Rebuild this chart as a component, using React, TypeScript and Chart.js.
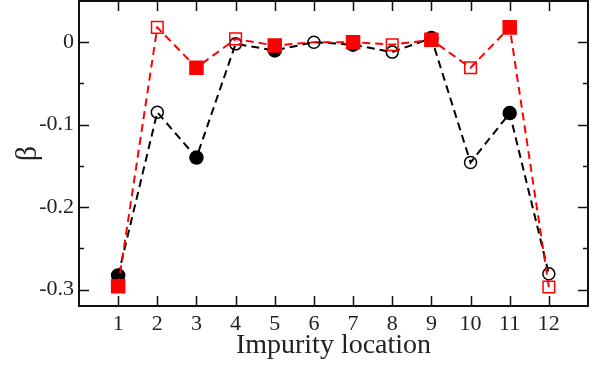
import React, { useEffect, useRef } from "react";
import { Chart, registerables } from "chart.js";

Chart.register(...registerables);

const locations = [1, 2, 3, 4, 5, 6, 7, 8, 9, 10, 11, 12];
const blackSeries = [-0.283, -0.085, -0.14, -0.002, -0.01, 0.0, -0.003, -0.012, 0.005, -0.146, -0.086, -0.281];
const redSeries = [-0.296, 0.018, -0.031, 0.004, -0.004, 0.0, 0.0, -0.003, 0.003, -0.031, 0.018, -0.297];
const redMarkerHidden = [false, false, false, false, false, true, false, false, false, false, false, false];
const xTickValues = [1, 2, 3, 4, 5, 6, 7, 8, 9, 10, 11, 12];
const yTickValues = [-0.3, -0.25, -0.2, -0.15, -0.1, -0.05, 0];
const xTitle = "Impurity location";
const yTitle = "β";

const FONT = "'Liberation Serif', 'DejaVu Serif', serif";

const isMajorY = (v: number) => Math.abs(Math.round(v * 10) - v * 10) < 1e-6;

const framePlugin = {
  id: "frameTicks",
  beforeDatasetsDraw(chart: any) {
    const { ctx, chartArea } = chart;
    const { left, right, top, bottom } = chartArea;
    const xs = chart.scales.x;
    const ys = chart.scales.y;
    ctx.save();
    ctx.strokeStyle = "#111";
    ctx.lineWidth = 1.5;
    ctx.beginPath();
    xs.ticks.forEach((t: any) => {
      const px = Math.round(xs.getPixelForValue(t.value)) + 0.5;
      ctx.moveTo(px, bottom);
      ctx.lineTo(px, bottom - 10);
      ctx.moveTo(px, top);
      ctx.lineTo(px, top + 10);
    });
    ys.ticks.forEach((t: any) => {
      const py = Math.round(ys.getPixelForValue(t.value)) + 0.5;
      const len = isMajorY(t.value) ? 10 : 5;
      ctx.moveTo(left, py);
      ctx.lineTo(left + len, py);
      ctx.moveTo(right, py);
      ctx.lineTo(right - len, py);
    });
    ctx.stroke();
    ctx.lineWidth = 2;
    ctx.strokeStyle = "#111";
    ctx.strokeRect(left, top, right - left, bottom - top);
    ctx.restore();
  },
};

export default function App() {
  const canvasRef = useRef<HTMLCanvasElement | null>(null);

  useEffect(() => {
    if (!canvasRef.current) return;
    const filled = (i: number) => i % 2 === 0;
    const chart = new Chart(canvasRef.current, {
      type: "line",
      data: {
        datasets: [
          {
            label: "red",
            data: locations.map((x, i) => ({ x, y: redSeries[i] })),
            borderColor: "#ff0000",
            borderWidth: 2,
            borderDash: [8, 5],
            pointStyle: "rect",
            pointRadius: locations.map((_, i) => (redMarkerHidden[i] ? 0 : filled(i) ? 9.2 : 8.2)),
            pointBorderColor: "#ff0000",
            pointBackgroundColor: locations.map((_, i) => (filled(i) ? "#ff0000" : "rgba(0,0,0,0)")),
            pointBorderWidth: 1.5,
            fill: false,
            tension: 0,
          },
          {
            label: "black",
            data: locations.map((x, i) => ({ x, y: blackSeries[i] })),
            borderColor: "#000000",
            borderWidth: 2,
            borderDash: [8, 5],
            pointStyle: "circle",
            pointRadius: locations.map((_, i) => (filled(i) ? 6.5 : 6)),
            pointBorderColor: "#000000",
            pointBackgroundColor: locations.map((_, i) => (filled(i) ? "#000000" : "rgba(0,0,0,0)")),
            pointBorderWidth: 1.5,
            fill: false,
            tension: 0,
          },
        ],
      },
      options: {
        responsive: false,
        animation: false,
        layout: { autoPadding: false, padding: { top: 1, right: 11, left: 0, bottom: 0 } },
        plugins: { legend: { display: false }, tooltip: { enabled: false } },
        scales: {
          x: {
            type: "linear",
            min: 0,
            max: 13,
            afterBuildTicks: (scale: any) => {
              scale.ticks = xTickValues.map((v) => ({ value: v }));
            },
            afterFit: (scale: any) => {
              scale.height = 60;
              scale.paddingLeft = 0;
              scale.paddingRight = 0;
            },
            grid: { display: false, drawTicks: false },
            border: { display: false },
            ticks: {
              font: { family: FONT, size: 22 },
              color: "#222",
              padding: 5,
              maxRotation: 0,
              autoSkip: false,
              callback: (v: any) => String(v),
            },
            title: {
              display: true,
              text: xTitle,
              font: { family: FONT, size: 28, lineHeight: 1 },
              color: "#222",
              padding: { top: 0, bottom: 6 },
            },
          },
          y: {
            type: "linear",
            min: -0.32,
            max: 0.05,
            afterBuildTicks: (scale: any) => {
              scale.ticks = yTickValues.map((v) => ({ value: v }));
            },
            afterFit: (scale: any) => {
              scale.width = 79;
              scale.paddingTop = 0;
              scale.paddingBottom = 0;
            },
            grid: { display: false, drawTicks: false },
            border: { display: false },
            ticks: {
              font: { family: FONT, size: 22 },
              color: "#222",
              padding: 5,
              autoSkip: false,
              callback: (v: any) => {
                const n = Number(v);
                if (!isMajorY(n)) return "";
                return Math.abs(n) < 1e-9 ? "0" : n.toFixed(1);
              },
            },
            title: {
              display: true,
              text: yTitle,
              font: { family: FONT, size: 30, lineHeight: 1 },
              color: "#222",
              padding: { top: 13, bottom: 0 },
            },
          },
        },
      },
      plugins: [framePlugin],
    });
    return () => chart.destroy();
  }, []);

  return (
    <div style={{ position: "absolute", left: 0, top: 0, width: 599, height: 366, background: "#fff" }}>
      <canvas ref={canvasRef} width={599} height={366} style={{ display: "block" }} />
    </div>
  );
}
